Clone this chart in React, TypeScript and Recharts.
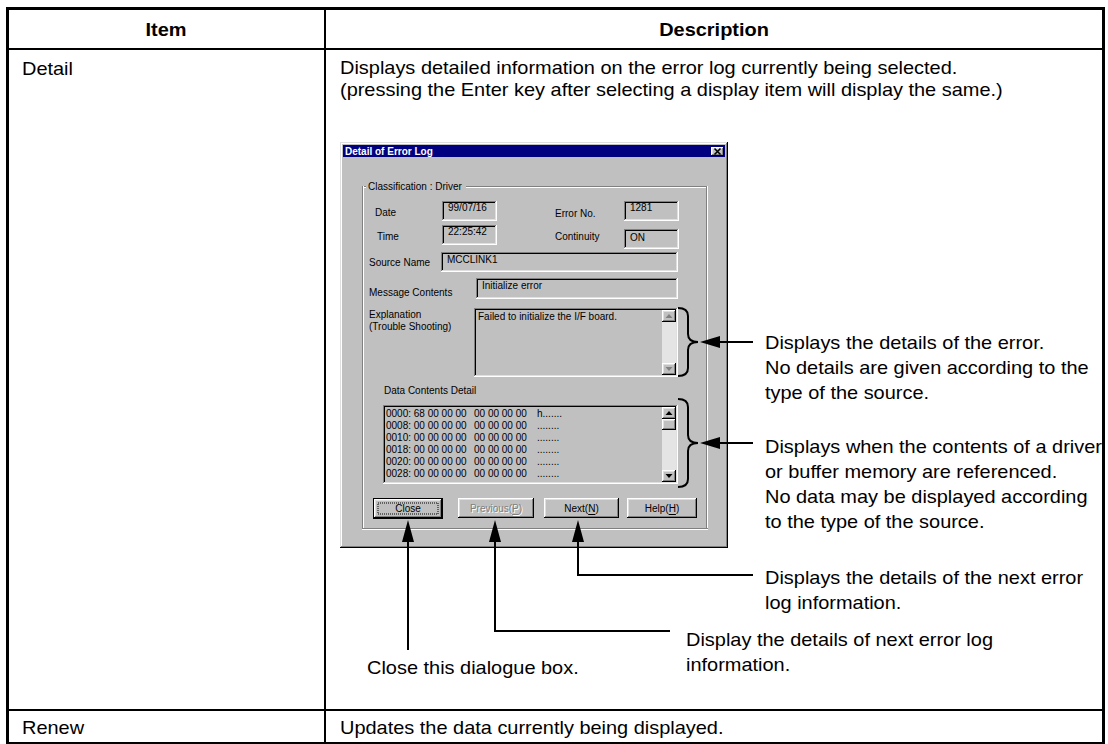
import React from 'react';
import { ComposedChart, XAxis, YAxis, ReferenceArea, Scatter } from 'recharts';

const W = 1108;
const H = 744;
const FONT = '"Liberation Sans", Arial, Helvetica, sans-serif';

// ── Table texts ───────────────────────────────────────────────────────────────

const headers = ['Item', 'Description'];
const items = ['Detail', 'Renew'];
const detailLines = [
  'Displays detailed information on the error log currently being selected.',
  '(pressing the Enter key after selecting a display item will display the same.)',
];
const renewLine = 'Updates the data currently being displayed.';

// ── Callout texts ─────────────────────────────────────────────────────────────

const explainNote = [
  'Displays the details of the error.',
  'No details are given according to the',
  'type of the source.',
];
const dataNote = [
  'Displays when the contents of a driver',
  'or buffer memory are referenced.',
  'No data may be displayed according',
  'to the type of the source.',
];
const nextNote = ['Displays the details of the next error', 'log information.'];
const prevNote = ['Display the details of next error log', 'information.'];
const closeNote = ['Close this dialogue box.'];

// ── Dialog texts ──────────────────────────────────────────────────────────────

const dialogTitle = 'Detail of Error Log';
const groupTitle = 'Classification : Driver';
const fieldLabels = ['Date', 'Time', 'Error No.', 'Continuity', 'Source Name', 'Message Contents'];
const fieldValues = ['99/07/16', '22:25:42', '1281', 'ON', 'MCCLINK1', 'Initialize error'];
const explanationLabel = ['Explanation', '(Trouble Shooting)'];
const explanationText = 'Failed to initialize the I/F board.';
const dataLabel = 'Data Contents Detail';
const hexAddr = ['0000:', '0008:', '0010:', '0018:', '0020:', '0028:'];
const hexLow = ['68 00 00 00', '00 00 00 00', '00 00 00 00', '00 00 00 00', '00 00 00 00', '00 00 00 00'];
const hexHigh = ['00 00 00 00', '00 00 00 00', '00 00 00 00', '00 00 00 00', '00 00 00 00', '00 00 00 00'];
const hexAscii = ['h.......', '........', '........', '........', '........', '........'];
const buttonNames = ['Close', 'Previous', 'Next', 'Help'];
const buttonKeys = ['', 'P', 'N', 'H'];

// ── Shapes ────────────────────────────────────────────────────────────────────

function textShape(size: number, weight: number, fill: string, anchor: string, sx = 1) {
  return (p: any) => {
    const d = p.payload;
    return (
      <text
        transform={`translate(${p.cx},${p.cy}) scale(${sx},1)`}
        fontSize={size}
        fontWeight={weight}
        fill={fill}
        textAnchor={anchor}
        dominantBaseline="central"
        fontFamily={FONT}
      >
        {d.t}
        {d.u ? <tspan textDecoration="underline">{d.u}</tspan> : null}
        {d.u ? ')' : null}
      </text>
    );
  };
}

function markShape(p: any) {
  const { cx, cy, payload: d } = p;
  switch (d.k) {
    case 'up':
      return <polygon points={`${cx},${cy} ${cx - 6},${cy + 22} ${cx + 6},${cy + 22}`} fill="#000" />;
    case 'left':
      return <polygon points={`${cx},${cy} ${cx + 20},${cy - 6} ${cx + 20},${cy + 6}`} fill="#000" />;
    case 'brace': {
      const h = d.h;
      const x0 = cx - 20;
      const x1 = cx - 10;
      return (
        <path
          d={`M${x0},${cy - h} Q${x1},${cy - h} ${x1},${cy - h + 8} L${x1},${cy - 8} Q${x1},${cy} ${cx},${cy} Q${x1},${cy} ${x1},${cy + 8} L${x1},${cy + h - 8} Q${x1},${cy + h} ${x0},${cy + h}`}
          fill="none"
          stroke="#000"
          strokeWidth={2}
        />
      );
    }
    case 'sup':
      return <polygon points={`${cx},${cy - 2} ${cx - 3.5},${cy + 2} ${cx + 3.5},${cy + 2}`} fill={d.c} />;
    case 'sdown':
      return <polygon points={`${cx},${cy + 2} ${cx - 3.5},${cy - 2} ${cx + 3.5},${cy - 2}`} fill={d.c} />;
    case 'x':
      return (
        <path
          d={`M${cx - 3},${cy - 3} L${cx + 3},${cy + 3} M${cx + 3},${cy - 3} L${cx - 3},${cy + 3}`}
          stroke="#000"
          strokeWidth={1.6}
        />
      );
    default:
      return <g />;
  }
}

export default function App() {
  const areas: React.ReactElement[] = [];
  const rect = (x1: number, y1: number, x2: number, y2: number, fill: string, extra: any = {}) => {
    areas.push(
      <ReferenceArea
        key={`a${areas.length}`}
        x1={x1}
        x2={x2}
        y1={y1}
        y2={y2}
        fill={fill}
        fillOpacity={1}
        stroke="none"
        {...extra}
      />
    );
  };
  const raised = (x1: number, y1: number, x2: number, y2: number, fill = '#c0c0c0') => {
    rect(x1, y1, x2, y2, '#000000');
    rect(x1, y1, x2 - 1, y2 - 1, '#ffffff');
    rect(x1 + 1, y1 + 1, x2 - 1, y2 - 1, '#808080');
    rect(x1 + 1, y1 + 1, x2 - 2, y2 - 2, '#dfdfdf');
    rect(x1 + 2, y1 + 2, x2 - 2, y2 - 2, fill);
  };
  const sunken = (x1: number, y1: number, x2: number, y2: number, fill = '#c0c0c0') => {
    rect(x1, y1, x2, y2, '#ffffff');
    rect(x1, y1, x2 - 1, y2 - 1, '#808080');
    rect(x1 + 1, y1 + 1, x2 - 1, y2 - 1, '#dfdfdf');
    rect(x1 + 1, y1 + 1, x2 - 2, y2 - 2, '#000000');
    rect(x1 + 2, y1 + 2, x2 - 2, y2 - 2, fill);
  };
  const etchH = (x1: number, x2: number, y: number) => {
    rect(x1, y, x2, y + 1, '#808080');
    rect(x1, y + 1, x2, y + 2, '#ffffff');
  };
  const etchV = (x: number, y1: number, y2: number) => {
    rect(x, y1, x + 1, y2, '#808080');
    rect(x + 1, y1, x + 2, y2, '#ffffff');
  };

  // table frame
  rect(6, 7, 1105, 744, '#000000');
  rect(9, 10, 1102, 742, '#ffffff');
  rect(9, 48, 1102, 50, '#000000');
  rect(324, 10, 326, 742, '#000000');
  rect(9, 709, 1102, 711, '#000000');

  // dialog window
  rect(340, 142, 728, 548, '#000000');
  rect(340, 142, 727, 547, '#dfdfdf');
  rect(341, 143, 727, 547, '#808080');
  rect(341, 143, 726, 546, '#ffffff');
  rect(342, 144, 726, 546, '#c0c0c0');
  rect(343, 145, 725, 157, '#000080');
  raised(711, 147, 724, 156);

  // group box
  etchH(362, 366, 186);
  etchH(466, 707, 186);
  etchV(362, 186, 529);
  etchV(706, 186, 529);
  etchH(362, 708, 528);

  // fields
  const fieldBoxes = [
    [442, 201, 497, 221],
    [442, 225, 497, 245],
    [624, 201, 679, 221],
    [624, 229, 679, 249],
    [441, 252, 678, 272],
    [476, 278, 678, 299],
  ];
  const fieldLabelPos = [
    [375, 212],
    [377, 236],
    [555, 213],
    [555, 236],
    [369, 262],
    [369, 292],
  ];
  const fieldValueY = [207, 231, 207, 237, 259, 285];
  fieldBoxes.forEach(([a, b, c, d]) => sunken(a, b, c, d));

  // explanation box + scrollbar
  sunken(474, 308, 678, 377);
  rect(662, 310, 676, 375, '#e4e4e4');
  raised(662, 310, 676, 322);
  raised(662, 363, 676, 375);

  // data box + scrollbar
  sunken(383, 405, 678, 484);
  rect(662, 407, 676, 482, '#e4e4e4');
  raised(662, 407, 676, 419);
  raised(662, 419, 676, 430);
  raised(662, 470, 676, 482);

  // buttons
  const buttonBoxes = [
    [374, 499, 442, 518],
    [458, 498, 534, 518],
    [544, 498, 619, 518],
    [627, 498, 697, 518],
  ];
  rect(373, 498, 443, 519, '#000000');
  buttonBoxes.forEach(([a, b, c, d]) => raised(a, b, c, d));
  rect(378, 503, 438, 514, 'none', { stroke: '#000', strokeWidth: 1, strokeDasharray: '1 1', fillOpacity: 0 });

  // callout lines
  rect(718, 341, 753, 343, '#000000');
  rect(718, 442, 753, 444, '#000000');
  rect(577, 540, 579, 576, '#000000');
  rect(577, 574, 753, 576, '#000000');
  rect(494, 540, 496, 632, '#000000');
  rect(494, 630, 670, 632, '#000000');
  rect(407, 540, 409, 650, '#000000');

  // ── text points ──
  const headPts = [
    { x: 166, y: 29, t: headers[0] },
    { x: 714, y: 29, t: headers[1] },
  ];
  const bodyPts = [
    { x: 22, y: 68, t: items[0] },
    { x: 22, y: 727, t: items[1] },
    { x: 340, y: 67, t: detailLines[0] },
    { x: 340, y: 89, t: detailLines[1] },
    { x: 340, y: 727, t: renewLine },
  ];
  const noteStep = 25;
  const notePts = [
    ...explainNote.map((t, i) => ({ x: 765, y: 342 + i * noteStep, t })),
    ...dataNote.map((t, i) => ({ x: 765, y: 446 + i * noteStep, t })),
    ...nextNote.map((t, i) => ({ x: 765, y: 577 + i * noteStep, t })),
    ...prevNote.map((t, i) => ({ x: 686, y: 639 + i * noteStep, t })),
    ...closeNote.map((t) => ({ x: 367, y: 667, t })),
  ];
  const dlgPts = [
    { x: 368, y: 186, t: groupTitle },
    ...fieldLabels.map((t, i) => ({ x: fieldLabelPos[i][0], y: fieldLabelPos[i][1], t })),
    ...fieldValues.map((t, i) => ({ x: fieldBoxes[i][0] + 6, y: fieldValueY[i], t })),
    { x: 369, y: 314, t: explanationLabel[0] },
    { x: 369, y: 326, t: explanationLabel[1] },
    { x: 478, y: 316, t: explanationText },
    { x: 384, y: 390, t: dataLabel },
    ...hexAddr.map((a, i) => ({ x: 386, y: 413 + i * 12, t: `${a} ${hexLow[i]}` })),
    ...hexHigh.map((t, i) => ({ x: 474, y: 413 + i * 12, t })),
    ...hexAscii.map((t, i) => ({ x: 537, y: 413 + i * 12, t })),
  ];
  const buttonCx = buttonBoxes.map(([a, , c]) => (a + c) / 2);
  const btnLabel = (i: number) => ({
    x: buttonCx[i],
    y: 508,
    t: buttonKeys[i] ? `${buttonNames[i]}(` : buttonNames[i],
    u: buttonKeys[i],
  });
  const btnPts = [btnLabel(0), btnLabel(2), btnLabel(3)];
  const btnOff = [btnLabel(1)];
  const btnOffShadow = [{ ...btnLabel(1), x: buttonCx[1] + 1, y: 509 }];
  const titlePts = [{ x: 345, y: 151, t: dialogTitle }];

  const marks = [
    { x: 578, y: 520, k: 'up' },
    { x: 495, y: 520, k: 'up' },
    { x: 408, y: 520, k: 'up' },
    { x: 700, y: 342, k: 'left' },
    { x: 700, y: 443, k: 'left' },
    { x: 698, y: 342, k: 'brace', h: 34 },
    { x: 698, y: 443, k: 'brace', h: 44 },
    { x: 669, y: 316, k: 'sup', c: '#808080' },
    { x: 669, y: 369, k: 'sdown', c: '#808080' },
    { x: 669, y: 413, k: 'sup', c: '#000' },
    { x: 669, y: 476, k: 'sdown', c: '#000' },
    { x: 717.5, y: 151.5, k: 'x' },
  ];

  return (
    <div style={{ position: 'absolute', left: 0, top: 0, width: W, height: H, background: '#fff' }}>
      <ComposedChart width={W} height={H} margin={{ top: 0, right: 0, bottom: 0, left: 0 }}>
        <XAxis type="number" dataKey="x" domain={[0, W]} hide allowDataOverflow />
        <YAxis type="number" dataKey="y" domain={[0, H]} reversed hide allowDataOverflow />
        {areas}
        <Scatter data={marks} shape={markShape} isAnimationActive={false} />
        <Scatter data={headPts} shape={textShape(19, 700, '#000', 'middle', 1.05)} isAnimationActive={false} />
        <Scatter data={bodyPts} shape={textShape(19, 400, '#000', 'start', 1.05)} isAnimationActive={false} />
        <Scatter data={notePts} shape={textShape(19, 400, '#000', 'start', 1.05)} isAnimationActive={false} />
        <Scatter data={titlePts} shape={textShape(10, 700, '#fff', 'start')} isAnimationActive={false} />
        <Scatter data={dlgPts} shape={textShape(10, 400, '#000', 'start')} isAnimationActive={false} />
        <Scatter data={btnPts} shape={textShape(10, 400, '#000', 'middle')} isAnimationActive={false} />
        <Scatter data={btnOffShadow} shape={textShape(10, 400, '#fff', 'middle')} isAnimationActive={false} />
        <Scatter data={btnOff} shape={textShape(10, 400, '#808080', 'middle')} isAnimationActive={false} />
      </ComposedChart>
    </div>
  );
}
